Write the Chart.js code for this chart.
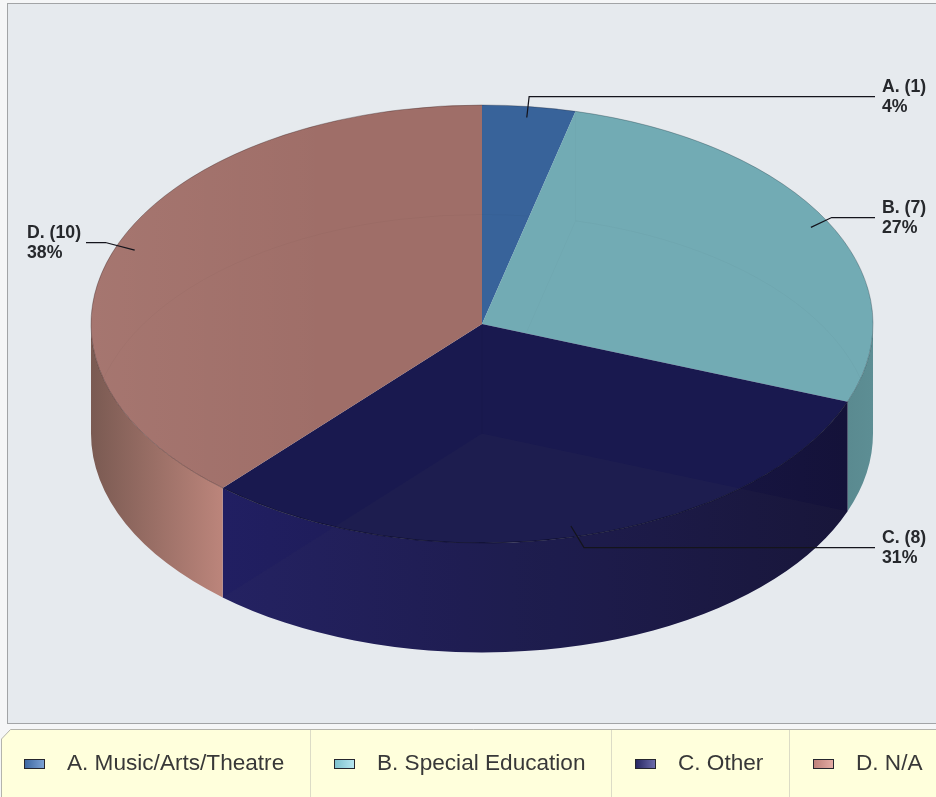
<!DOCTYPE html>
<html>
<head>
<meta charset="utf-8">
<style>
html,body{margin:0;padding:0;background:#f5f6f7;overflow:hidden}
canvas{display:block}
</style>
<script src="https://cdn.jsdelivr.net/npm/chart.js@4"></script>
</head>
<body>
<canvas id="c" width="936" height="797"></canvas>
<script>
const shortLabels = ['A.', 'B.', 'C.', 'D.'];
const legendLabels = ['A. Music/Arts/Theatre', 'B. Special Education', 'C. Other', 'D. N/A'];
const counts = [1, 7, 8, 10];
const topColors = ['#38639a', '#72abb4', '#19194f', '#9f6e68'];
const wallLeft = ['#2c4f7a', '#5a8a90', '#211f62', '#7a5a52'];
const wallRight = ['#2c4f7a', '#5d8e94', '#141239', '#bc857b'];
const rimColors = ['rgba(20,20,30,0.28)', 'rgba(20,40,50,0.3)', 'rgba(5,5,25,0.55)', 'rgba(40,20,20,0.32)'];
const swatchLight = ['#7fa4d6', '#b9e8f2', '#6f6fae', '#e6aea6'];
const swatchDark = ['#3a659f', '#7cc0cc', '#24245f', '#bd7f78'];

// Geometry of the tilted cylinder
const CY = 324, TILT = 219 / 391, DEPTH = 109.5;
const elbowXFactor = [1.0, 1.01, 1.09, 1.03];
const legendSwatchX = [24, 334, 635, 813];
const legendTextX = [67, 377, 678, 856];
const legendSeparatorX = [310, 611, 789];

function arcs(chart){ return chart.getDatasetMeta(0).data; }
function rx(a){ return a.outerRadius; }
function ry(a){ return a.outerRadius * TILT; }

function wallPath(ctx, a, a0, a1){
  ctx.beginPath();
  ctx.ellipse(a.x, CY, rx(a), ry(a), 0, a0, a1, false);
  ctx.ellipse(a.x, CY + DEPTH, rx(a), ry(a), 0, a1, a0, true);
  ctx.closePath();
}
function sectorPath(ctx, a, y){
  ctx.beginPath();
  ctx.moveTo(a.x, y);
  ctx.ellipse(a.x, y, rx(a), ry(a), 0, a.startAngle, a.endAngle, false);
  ctx.closePath();
}

const pie3d = {
  id: 'pie3d',
  beforeDraw(chart){
    const ctx = chart.ctx;
    ctx.save();
    ctx.fillStyle = '#f5f6f7';
    ctx.fillRect(0, 0, 936, 797);
    // plot panel
    ctx.fillStyle = '#e6eaee';
    ctx.fillRect(7.5, 3.5, 940, 720);
    ctx.strokeStyle = '#a2a4a6';
    ctx.lineWidth = 1;
    ctx.strokeRect(7.5, 3.5, 940, 720);
    // legend panel
    ctx.beginPath();
    ctx.moveTo(1.5, 805);
    ctx.lineTo(1.5, 739);
    ctx.lineTo(10.5, 729.5);
    ctx.lineTo(945, 729.5);
    ctx.lineTo(945, 805);
    ctx.closePath();
    ctx.fillStyle = '#ffffdc';
    ctx.fill();
    ctx.strokeStyle = '#b4b4ac';
    ctx.stroke();
    ctx.strokeStyle = '#dcdcc6';
    legendSeparatorX.forEach(x => {
      ctx.beginPath();
      ctx.moveTo(x + .5, 730);
      ctx.lineTo(x + .5, 797);
      ctx.stroke();
    });
    legendLabels.forEach((t, i) => {
      const x = legendSwatchX[i];
      const g = ctx.createLinearGradient(x, 0, x + 21, 0);
      g.addColorStop(0, swatchDark[i]);
      g.addColorStop(1, swatchLight[i]);
      ctx.fillStyle = g;
      ctx.fillRect(x + .5, 759.5, 20, 9);
      ctx.strokeStyle = '#26262e';
      ctx.strokeRect(x + .5, 759.5, 20, 9);
      ctx.fillStyle = '#383838';
      ctx.font = '22.6px "Liberation Sans"';
      ctx.textAlign = 'left';
      ctx.textBaseline = 'middle';
      ctx.fillText(t, legendTextX[i], 764);
    });
    ctx.restore();
  },
  beforeDatasetsDraw(chart){
    const ctx = chart.ctx, list = arcs(chart);
    // outer wall, front half of the cylinder
    list.forEach((a, i) => {
      const a0 = Math.max(a.startAngle, 0), a1 = Math.min(a.endAngle, Math.PI);
      if (a1 <= a0) return;
      const xL = a.x + rx(a) * Math.cos(a1), xR = a.x + rx(a) * Math.cos(a0);
      const g = ctx.createLinearGradient(xL, 0, xR, 0);
      g.addColorStop(0, wallLeft[i]);
      g.addColorStop(1, wallRight[i]);
      wallPath(ctx, a, a0, a1);
      ctx.fillStyle = g;
      ctx.fill();
    });
    // squash the library's own circle into the top ellipse
    const a = list[0];
    ctx.save();
    ctx.translate(0, CY);
    ctx.scale(1, TILT);
    ctx.translate(0, -a.y);
  },
  afterDatasetsDraw(chart){
    const ctx = chart.ctx, list = arcs(chart);
    ctx.restore();
    const floorY = CY + DEPTH;
    // soft light on the left of slice D
    const d = list[3];
    ctx.save();
    sectorPath(ctx, d, CY);
    const lg = ctx.createLinearGradient(d.x - rx(d), 0, d.x - rx(d) * .4, 0);
    lg.addColorStop(0, 'rgba(255,225,215,0.07)');
    lg.addColorStop(1, 'rgba(255,225,215,0)');
    ctx.fillStyle = lg;
    ctx.fill();
    ctx.restore();
    // translucent look: the floor of slice C shows through
    const cSlice = list[2];
    ctx.save();
    sectorPath(ctx, cSlice, floorY);
    ctx.fillStyle = 'rgba(120,120,110,0.04)';
    ctx.fill();
    ctx.restore();
    // faint back edge of the floor and interior corners, seen through the lid
    [list[0], list[1], list[3]].forEach(a => {
      ctx.save();
      sectorPath(ctx, a, CY);
      ctx.clip();
      ctx.beginPath();
      ctx.ellipse(a.x, floorY, rx(a), ry(a), 0, a.startAngle, a.endAngle, false);
      ctx.lineWidth = 1;
      ctx.strokeStyle = 'rgba(0,0,0,0.022)';
      ctx.stroke();
      const ex = a.x + rx(a) * Math.cos(a.startAngle);
      const ey = CY + ry(a) * Math.sin(a.startAngle);
      ctx.beginPath();
      ctx.moveTo(ex, ey); ctx.lineTo(ex, ey + DEPTH);
      ctx.lineTo(a.x, floorY);
      ctx.strokeStyle = 'rgba(0,0,0,0.014)';
      ctx.stroke();
      ctx.restore();
    });
    // centre post inside slice C
    ctx.save();
    ctx.beginPath();
    ctx.moveTo(cSlice.x, CY); ctx.lineTo(cSlice.x, floorY);
    ctx.strokeStyle = 'rgba(0,0,0,0.05)';
    ctx.stroke();
    ctx.restore();
    // crisp rims
    list.forEach((a, i) => {
      ctx.save();
      ctx.beginPath();
      ctx.ellipse(a.x, CY, rx(a), ry(a), 0, a.startAngle, a.endAngle, false);
      ctx.lineWidth = 1;
      ctx.strokeStyle = rimColors[i];
      ctx.stroke();
      ctx.restore();
    });
    // leaders and labels
    const total = counts.reduce((s, v) => s + v, 0);
    list.forEach((a, i) => {
      const mid = (a.startAngle + a.endAngle) / 2;
      const c = Math.cos(mid), s = Math.sin(mid);
      const right = c > 0;
      const x0 = a.x + rx(a) * .95 * c, y0 = CY + ry(a) * .95 * s;
      const x1 = a.x + rx(a) * elbowXFactor[i] * c, y1 = CY + ry(a) * 1.05 * s;
      const x2 = right ? 875 : 86;
      const yy = Math.round(y1) + .5;
      ctx.save();
      ctx.beginPath();
      ctx.moveTo(x0, y0);
      ctx.lineTo(x1, yy);
      ctx.lineTo(x2, yy);
      ctx.lineWidth = 1.25;
      ctx.strokeStyle = '#14141c';
      ctx.stroke();
      ctx.fillStyle = '#26282c';
      ctx.font = 'bold 17.7px "Liberation Sans"';
      ctx.textAlign = 'left';
      ctx.textBaseline = 'middle';
      const tx = right ? 882 : 27;
      ctx.fillText(shortLabels[i] + ' (' + counts[i] + ')', tx, yy - 9.5);
      ctx.fillText(Math.round(counts[i] / total * 100) + '%', tx, yy + 10.5);
      ctx.restore();
    });
  }
};

new Chart(document.getElementById('c'), {
  type: 'pie',
  data: {
    labels: legendLabels,
    datasets: [{ data: counts, backgroundColor: topColors, borderWidth: 0 }]
  },
  options: {
    responsive: false,
    animation: false,
    radius: 391,
    layout: { padding: { left: 28 } },
    events: [],
    plugins: { legend: { display: false }, tooltip: { enabled: false } }
  },
  plugins: [pie3d]
});
</script>
</body>
</html>
